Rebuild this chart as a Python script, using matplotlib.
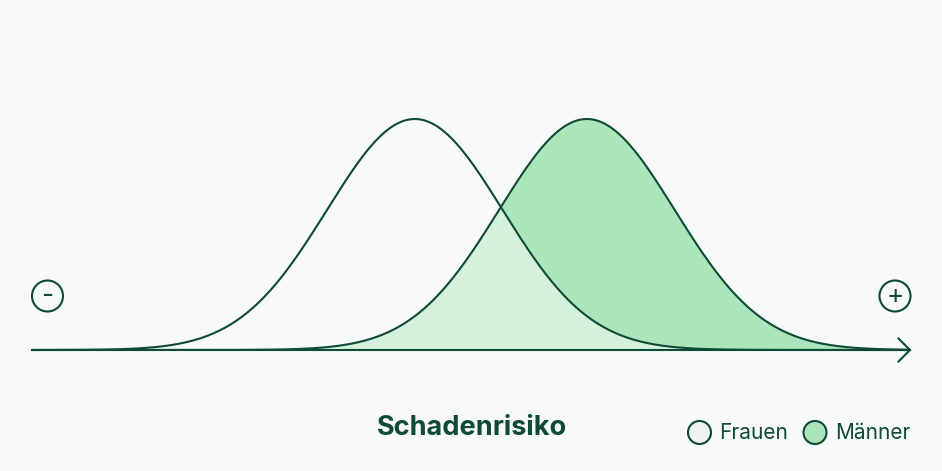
import numpy as np
import matplotlib.pyplot as plt
from matplotlib.patches import Circle

# schematic risk distributions (x in arbitrary risk units 0..10)
groups = ['Frauen', 'Männer']
means = [4.36, 6.32]
spreads = [1.0, 1.0]
x_range = [0, 10]

title = 'Schadenrisiko'
low_label = '-'
high_label = '+'

BG = '#f8f9f9'
DARK = '#0e4a35'
MEN_FILL = '#abe6ba'
OVERLAP_FILL = '#d4f1db'
WOMEN_LEGEND = '#f0f2f1'

plt.rcParams['font.family'] = ['Inter', 'DejaVu Sans']

fig = plt.figure(figsize=(9.42, 4.71), dpi=100)
fig.patch.set_facecolor(BG)

# curve axes: baseline at y=350px, peak at y=119px, x from 32px to 910px
W, H = 942, 471
ax = fig.add_axes([32 / W, (H - 350) / H, 878 / W, 231 / H])
ax.set_xlim(*x_range)
ax.set_ylim(0, 1)
ax.axis('off')

x = np.linspace(x_range[0], x_range[1], 800)
curves = [np.exp(-0.5 * ((x - m) / s) ** 2) for m, s in zip(means, spreads)]
women, men = curves

ax.fill_between(x, 0, men, color=MEN_FILL, lw=0)
ax.fill_between(x, 0, np.minimum(women, men), color=OVERLAP_FILL, lw=0)
for c in curves:
    ax.plot(x, c, color=DARK, lw=1.5, solid_capstyle='round', clip_on=False)

# overlay in pixel coordinates for axis line, arrow, labels and legend
ov = fig.add_axes([0, 0, 1, 1])
ov.set_xlim(0, W)
ov.set_ylim(H, 0)
ov.axis('off')
ov.patch.set_alpha(0)

ov.plot([32, 910], [350, 350], color=DARK, lw=1.5)
ov.plot([898.5, 910, 898.5], [338.5, 350, 361.5], color=DARK, lw=1.5,
        solid_joinstyle='miter')

for cx, lab in [(47.5, low_label), (895, high_label)]:
    ov.add_patch(Circle((cx, 296), 15.5, facecolor='none', edgecolor=DARK, lw=1.5))
    ov.text(cx, 296.5, lab, ha='center', va='center', fontsize=19, color=DARK)

ov.text(472, 428, title, ha='center', va='center', fontsize=19.5,
        fontweight='bold', color=DARK)

legend_fill = [WOMEN_LEGEND, MEN_FILL]
legend_x = [699.5, 815]
for g, fc, lx in zip(groups, legend_fill, legend_x):
    ov.add_patch(Circle((lx, 432.5), 11.5, facecolor=fc, edgecolor=DARK, lw=1.5))
    ov.text(lx + 20, 433, g, ha='left', va='center', fontsize=15, color=DARK)

fig.savefig('out.png', dpi=100, facecolor=BG)
